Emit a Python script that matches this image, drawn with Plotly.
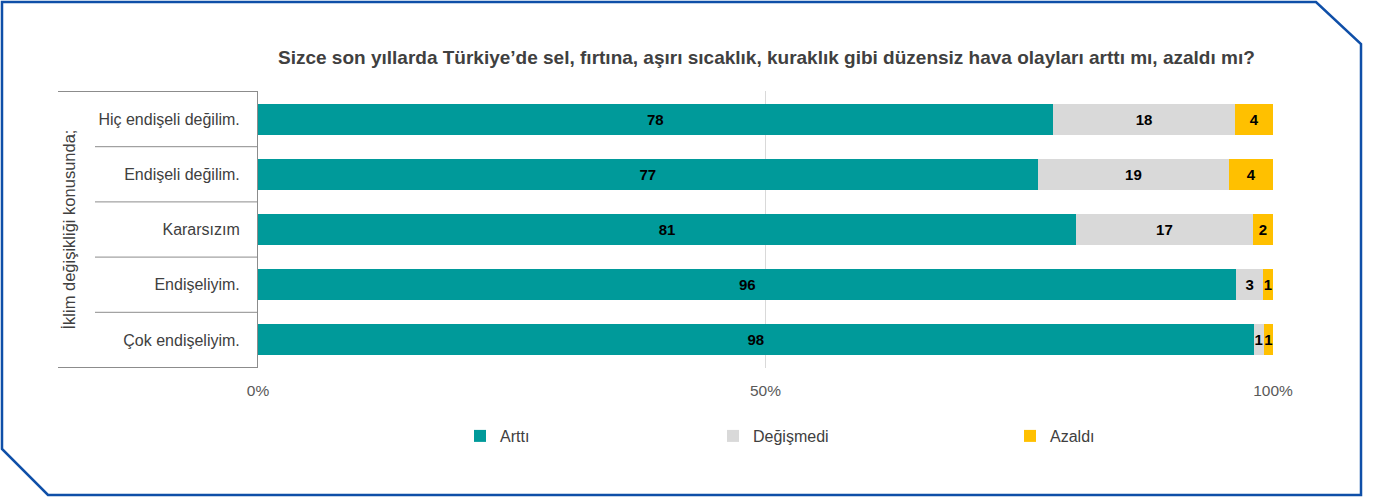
import plotly.graph_objects as go

categories = ["Hiç endişeli değilim.", "Endişeli değilim.", "Kararsızım", "Endişeliyim.", "Çok endişeliyim."]
arttı = [78.3, 76.8, 80.6, 96.4, 98.1]
degismedi = [18.0, 18.9, 17.4, 2.6, 1.0]
azaldı = [3.7, 4.3, 2.0, 1.0, 0.9]
series_names = ["Arttı", "Değişmedi", "Azaldı"]
colors = ["#009A9A", "#D9D9D9", "#FFC000"]
x_tickvals = [0, 50, 100]
x_ticktext = ["0%", "50%", "100%"]
title_text = "Sizce son yıllarda Türkiye’de sel, fırtına, aşırı sıcaklık, kuraklık gibi düzensiz hava olayları arttı mı, azaldı mı?"
ytitle_text = "İklim değişikliği konusunda;"

W, H = 1379, 498
L, R, T, B = 258, 106, 91, 130
PW, PH = W - L - R, H - T - B

def px(x):
    return (x - L) / PW

def py(y):
    return (H - B - y) / PH

FONT = "Liberation Sans"
legend_ids = ["legend", "legend2", "legend3"]
legend_px = [460, 713, 1010]

fig = go.Figure()
for name, vals, col, lid in zip(series_names, [arttı, degismedi, azaldı], colors, legend_ids):
    fig.add_trace(go.Bar(
        y=categories, x=vals, name=name, orientation="h", legend=lid,
        marker=dict(color=col, line=dict(width=0)),
        texttemplate="%{x:.0f}", textposition="inside", insidetextanchor="middle",
        textfont=dict(family=FONT, size=15, color="black", weight="bold"),
        cliponaxis=False,
    ))

shapes = []
frame = [(2, 2), (1316, 2), (1361, 44), (1361, 495), (48, 495), (2, 449)]
path = "M " + " L ".join(f"{px(a):.5f},{py(b):.5f}" for a, b in frame) + " Z"
shapes.append(dict(type="path", xref="paper", yref="paper", path=path,
                   line=dict(color="#0F4FA8", width=2.5), layer="below"))
n = len(categories)
for i in range(n + 1):
    yv = i - 0.5
    x0 = px(58) if i in (0, n) else px(95)
    shapes.append(dict(type="line", xref="paper", yref="y", x0=x0, x1=0, y0=yv, y1=yv,
                       line=dict(color="#8C8C8C", width=1)))

legend_common = dict(orientation="h", xanchor="left", y=py(436), yanchor="middle",
                     bgcolor="rgba(0,0,0,0)", font=dict(size=16, color="#404040"), itemwidth=30)
legends = {lid: dict(x=px(lx), **legend_common) for lid, lx in zip(legend_ids, legend_px)}

fig.update_layout(
    width=W, height=H,
    margin=dict(l=L, r=R, t=T, b=B, autoexpand=False),
    barmode="stack", bargap=0.44,
    plot_bgcolor="white", paper_bgcolor="white",
    font=dict(family=FONT, color="#404040"),
    uniformtext=dict(minsize=15, mode="show"),
    xaxis=dict(range=[0, 100], tickvals=x_tickvals, ticktext=x_ticktext,
               showgrid=True, gridcolor="#D9D9D9", gridwidth=1, zeroline=False,
               showline=False, ticks="", tickfont=dict(size=15.5, color="#595959"),
               ticklabelstandoff=11, fixedrange=True),
    yaxis=dict(autorange="reversed", showline=True, linecolor="#8C8C8C", linewidth=1,
               ticks="", tickfont=dict(size=16, color="#404040"), ticklabelstandoff=14,
               showgrid=False),
    showlegend=True,
    **legends,
    shapes=shapes,
    annotations=[
        dict(text=f"<b>{title_text}</b>", xref="paper", yref="paper", x=px(766), y=py(57),
             xanchor="center", yanchor="middle", showarrow=False,
             font=dict(size=19, color="#404040", family=FONT)),
        dict(text=ytitle_text, xref="paper", yref="paper", x=px(68), y=0.5, textangle=-90,
             xanchor="center", yanchor="middle", showarrow=False,
             font=dict(size=16.5, color="#404040", family=FONT)),
    ],
)

fig.write_html("out.html", config={"displayModeBar": False},
               post_script="document.body.style.margin='0px';")
